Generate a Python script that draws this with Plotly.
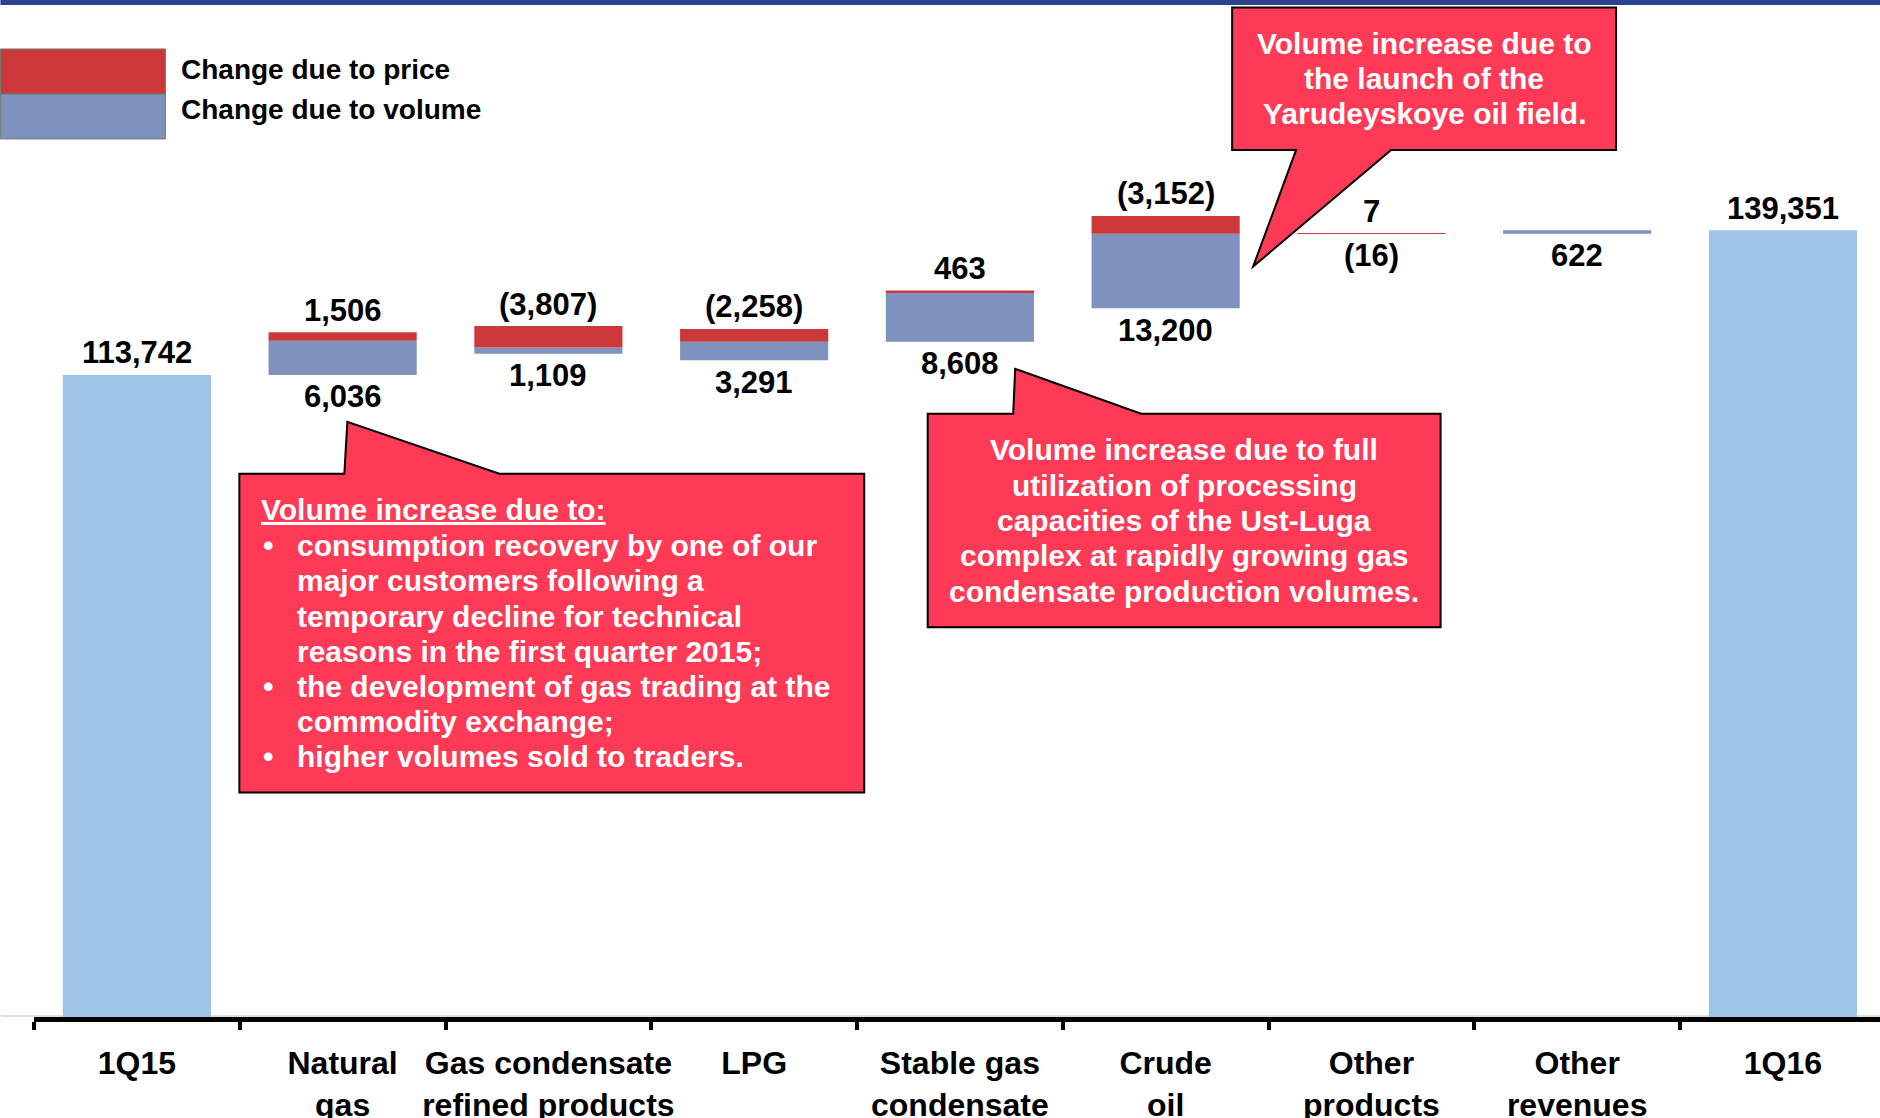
import plotly.graph_objects as go

# ---------------- data ----------------
categories = ["1Q15", "Natural<br>gas", "Gas condensate<br>refined products", "LPG",
              "Stable gas<br>condensate", "Crude<br>oil", "Other<br>products",
              "Other<br>revenues", "1Q16"]
start_total = 113742
end_total = 139351
price_change = [1506, -3807, -2258, 463, -3152, 7, None]
volume_change = [6036, 1109, 3291, 8608, 13200, -16, 622]
legend_labels = ["Change due to price", "Change due to volume"]

callout1_title = "Volume increase due to:"
callout1_lines = [
    ("•", "consumption recovery by one of our"),
    ("", "major customers following a"),
    ("", "temporary decline for technical"),
    ("", "reasons in the first quarter 2015;"),
    ("•", "the development of gas trading at the"),
    ("", "commodity exchange;"),
    ("•", "higher volumes sold to traders."),
]
callout2_lines = ["Volume increase due to full", "utilization of processing",
                  "capacities of the Ust-Luga", "complex at rapidly growing gas",
                  "condensate production volumes."]
callout3_lines = ["Volume increase due to", "the launch of the", "Yarudeyskoye oil field."]

# ---------------- styles / geometry ----------------
W, H = 1880, 1118
ML, MB, MT, MR = 33.6, 100.5, 0, 0
PW = W - ML - MR
PH = H - MB - MT
CAT_PX = 205.8
X_MAX = -0.5 + PW / CAT_PX
Y_MAX = 180150
BAR_W = 0.72

C_TOTAL = "#9DC3E6"
C_VOL = "#7F91BE"
C_PRICE = "#CC383A"
C_CALL = "#FF3A56"
C_TOP = "#2B428C"
FONT = "Liberation Sans, Arial, sans-serif"


def px(x):
    return (x - ML) / PW


def py(y):
    return (H - MB - y) / PH


def fmt(v):
    return f"{v:,}" if v >= 0 else f"({-v:,})"


# ---------------- waterfall computation ----------------
mid_cats = categories[1:-1]
bases, blue, red, tops = [], [], [], []
level = start_total
for p, v in zip(price_change, volume_change):
    p0 = p or 0
    base = level + min(p0, 0) + min(v, 0)
    bases.append(base)
    blue.append(abs(v))
    red.append(abs(p0))
    tops.append(base + abs(v) + abs(p0))
    level += p0 + v

fig = go.Figure()
fig.add_trace(go.Bar(x=[categories[0], categories[-1]], y=[start_total, end_total],
                     marker=dict(color=C_TOTAL, line=dict(width=0)), width=BAR_W,
                     showlegend=False, hoverinfo="skip"))
fig.add_trace(go.Bar(x=mid_cats, y=blue, base=bases, name=legend_labels[1],
                     marker=dict(color=C_VOL, line=dict(width=0)), width=BAR_W,
                     showlegend=False, hoverinfo="skip"))
fig.add_trace(go.Bar(x=mid_cats, y=red, base=[b + v for b, v in zip(bases, blue)],
                     name=legend_labels[0],
                     marker=dict(color=C_PRICE, line=dict(width=0)), width=BAR_W,
                     showlegend=False, hoverinfo="skip"))

annotations = []
num_font = dict(family=FONT, size=31, color="black", weight="bold")
for c, v, t in [(categories[0], start_total, start_total), (categories[-1], end_total, end_total)]:
    annotations.append(dict(x=c, y=v, text=fmt(t), showarrow=False, yshift=22,
                            yanchor="middle", font=num_font))
for c, p, v, b, t in zip(mid_cats, price_change, volume_change, bases, tops):
    if p is not None:
        annotations.append(dict(x=c, y=t, text=fmt(p), showarrow=False, yshift=22,
                                yanchor="middle", font=num_font))
    annotations.append(dict(x=c, y=b, text=fmt(v), showarrow=False, yshift=-22,
                            yanchor="middle", font=num_font))

# ---------------- legend (custom large swatches) ----------------
shapes = []
shapes.append(dict(type="rect", xref="paper", yref="paper", x0=px(0), x1=px(1880),
                   y0=py(5), y1=py(0), fillcolor=C_TOP, line=dict(width=0), layer="above"))
shapes.append(dict(type="rect", xref="paper", yref="paper", x0=px(0), x1=px(165),
                   y0=py(94), y1=py(49), fillcolor=C_PRICE, line=dict(color="#6A7A6A", width=1)))
shapes.append(dict(type="rect", xref="paper", yref="paper", x0=px(0), x1=px(165),
                   y0=py(139), y1=py(94), fillcolor=C_VOL, line=dict(color="#6A7A6A", width=1)))
leg_font = dict(family=FONT, size=28, color="black", weight="bold")
for lab, yy in zip(legend_labels, [70, 110]):
    annotations.append(dict(xref="paper", yref="paper", x=px(179), y=py(yy), text=lab,
                            showarrow=False, xanchor="left", yanchor="middle", font=leg_font))

# thin grey baseline
shapes.append(dict(type="line", xref="paper", yref="paper", x0=px(0), x1=px(1880),
                   y0=py(1016.5), y1=py(1016.5), line=dict(color="#C0C0C0", width=1), layer="below"))


# ---------------- callouts ----------------
def poly(points):
    d = "M " + " L ".join(f"{px(x):.5f},{py(y):.5f}" for x, y in points) + " Z"
    return dict(type="path", xref="paper", yref="paper", path=d, fillcolor=C_CALL,
                line=dict(color="black", width=2), layer="above")


shapes.append(poly([(239, 474), (344, 474), (347, 422), (499, 474), (864, 474),
                    (864, 793), (239, 793)]))
shapes.append(poly([(927.5, 414), (1013, 414), (1015, 369), (1141, 414), (1440.5, 414),
                    (1440.5, 627.5), (927.5, 627.5)]))
shapes.append(poly([(1232, 7.5), (1616, 7.5), (1616, 150), (1391, 150), (1253, 266.7),
                    (1296, 150), (1232, 150)]))

call_font = dict(family=FONT, size=30, color="white", weight="bold")
annotations.append(dict(xref="paper", yref="paper", x=px(259), y=py(510),
                        text=f"<u>{callout1_title}</u>", showarrow=False,
                        xanchor="left", yanchor="middle", font=call_font))
for i, (bul, line) in enumerate(callout1_lines):
    yy = 546 + i * 35.2
    if bul:
        annotations.append(dict(xref="paper", yref="paper", x=px(261), y=py(yy), text=bul,
                                showarrow=False, xanchor="left", yanchor="middle", font=call_font))
    annotations.append(dict(xref="paper", yref="paper", x=px(295), y=py(yy), text=line,
                            showarrow=False, xanchor="left", yanchor="middle", font=call_font))
for i, line in enumerate(callout2_lines):
    annotations.append(dict(xref="paper", yref="paper", x=px(1184), y=py(450 + i * 35.4),
                            text=line, showarrow=False, xanchor="center", yanchor="middle",
                            font=call_font))
for i, line in enumerate(callout3_lines):
    annotations.append(dict(xref="paper", yref="paper", x=px(1424), y=py(43.3 + i * 35),
                            text=line, showarrow=False, xanchor="center", yanchor="middle",
                            font=call_font))

fig.update_layout(
    width=W, height=H,
    margin=dict(l=ML, r=MR, t=MT, b=MB, pad=0, autoexpand=False),
    paper_bgcolor="white", plot_bgcolor="white",
    barmode="overlay", showlegend=False,
    shapes=shapes, annotations=annotations,
    hovermode=False,
    xaxis=dict(type="category", categoryorder="array", categoryarray=categories,
               range=[-0.5, X_MAX], showline=True, linecolor="black", linewidth=5,
               ticks="outside", tickson="boundaries", ticklen=8, tickwidth=4,
               tickcolor="black", showgrid=False, zeroline=False, tickangle=0,
               automargin=False, ticklabelstandoff=14,
               tickfont=dict(family=FONT, size=32, color="black", weight="bold")),
    yaxis=dict(range=[0, Y_MAX], visible=False, showgrid=False, zeroline=False,
               automargin=False),
)

fig.write_html("out.html", config={"displayModeBar": False},
               post_script="document.body.style.margin='0';")
